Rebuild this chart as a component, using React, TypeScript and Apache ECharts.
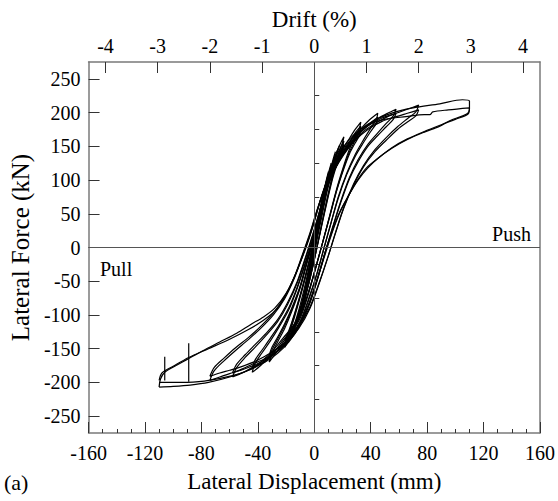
import React, { useEffect, useRef } from "react";
import * as echarts from "echarts";

// ---- axis ticks / labels ----
const dispTicksInterval = 40;
const driftTicks = [-4, -3, -2, -1, 0, 1, 2, 3, 4];
const forceMajor = [-250, -200, -150, -100, -50, 0, 50, 100, 150, 200, 250];
const forceMinor = [-225, -175, -125, -75, -25, 25, 75, 125, 175, 225];
const mmPerDrift = 37; // 1 % drift in mm

// ---- hysteresis cycles [displacement mm, force kN] ----
const cycle03 = [
  [-3, -35], [-1, -12], [1, 12], [3, 38], [1, 15], [-1, -10], [-3, -35],
];
const cycle05 = [
  [-5, -58], [-3, -36], [-1, -10], [1, 15], [3, 40], [5, 60],
  [4, 48], [2, 22], [0, -5], [-2, -28], [-5, -58],
];
const cycle07 = [
  [-7, -80], [-5, -60], [-2, -25], [1, 10], [4, 48], [7, 85],
  [5, 65], [2, 28], [-1, -8], [-4, -45], [-7, -80],
];
const cycle10 = [
  [-10, -100], [-8, -85], [-5, -55], [-2, -20], [1, 15], [4, 50], [7, 82], [10, 112],
  [8, 95], [5, 62], [2, 25], [-1, -10], [-4, -45], [-7, -75], [-10, -100],
];
const cycle12a = [
  [-12, -110], [-9, -88], [-6, -60], [-3, -28], [0, 8], [3, 42], [6, 75], [9, 102], [12, 125],
  [10, 108], [7, 78], [4, 42], [1, 5], [-2, -30], [-5, -60], [-8, -88], [-12, -110],
];
const cycle12b = [
  [-12, -106], [-9, -84], [-6, -57], [-3, -25], [0, 10], [3, 44], [6, 76], [9, 101], [12, 122],
  [10, 104], [7, 74], [4, 39], [1, 3], [-2, -31], [-5, -60], [-8, -85], [-12, -106],
];
const cycle15a = [
  [-15, -126], [-12, -108], [-8, -78], [-4, -40], [0, 0], [4, 45], [8, 85], [12, 120], [15, 142],
  [13, 128], [10, 100], [6, 60], [2, 18], [-2, -25], [-6, -62], [-10, -95], [-13, -115], [-15, -126],
];
const cycle15b = [
  [-15, -122], [-12, -104], [-8, -75], [-4, -37], [0, 3], [4, 46], [8, 84], [12, 117], [15, 137],
  [13, 123], [10, 96], [6, 57], [2, 16], [-2, -26], [-6, -61], [-10, -92], [-13, -111], [-15, -122],
];
const cycle18 = [
  [-18, -138], [-15, -120], [-11, -93], [-7, -60], [-3, -22], [1, 18], [5, 58], [9, 95], [13, 123], [16, 142], [18, 152],
  [16, 138], [13, 115], [9, 82], [5, 42], [1, 3], [-3, -38], [-7, -72], [-11, -100], [-15, -124], [-18, -138],
];
const cycle21a = [
  [-21, -148], [-18, -130], [-14, -103], [-9, -66], [-4, -25], [0, 12], [4, 52], [8, 92], [12, 120], [16, 142], [19, 156], [21, 164],
  [20, 155], [17, 138], [13, 108], [8, 62], [4, 22], [0, -18], [-4, -55], [-9, -92], [-14, -120], [-18, -138], [-21, -148],
];
const cycle21b = [
  [-21, -142], [-18, -126], [-14, -100], [-9, -64], [-4, -24], [0, 12], [4, 50], [8, 89], [12, 116], [16, 137], [19, 150], [21, 158],
  [20, 149], [17, 133], [13, 105], [8, 60], [4, 21], [0, -18], [-4, -54], [-9, -90], [-14, -116], [-18, -133], [-21, -142],
];
const cycle21c = [
  [-21, -138], [-18, -123], [-14, -98], [-9, -63], [-4, -23], [0, 13], [4, 49], [8, 87], [12, 113], [16, 133], [19, 146], [21, 153],
  [20, 145], [17, 129], [13, 102], [8, 58], [4, 20], [0, -18], [-4, -53], [-9, -88], [-14, -113], [-18, -129], [-21, -138],
];
const cycle33a = [
  [-32, -170], [-30, -157], [-26, -140], [-21, -120], [-16, -95], [-10, -60], [-5, -22], [0, 15], [5, 60], [10, 98], [15, 125], [20, 145], [25, 162], [29, 175], [33, 186],
  [32, 177], [29, 164], [25, 146], [21, 122], [16, 88], [11, 48], [6, 8], [1, -30], [-4, -68], [-10, -105], [-16, -125], [-22, -140], [-27, -156], [-32, -170],
];
const cycle33b = [
  [-32, -164], [-30, -152], [-26, -136], [-21, -116], [-16, -92], [-10, -58], [-5, -20], [0, 16], [5, 58], [10, 95], [15, 121], [20, 140], [25, 156], [29, 170], [33, 180],
  [32, 171], [29, 159], [25, 142], [21, 119], [16, 86], [11, 47], [6, 8], [1, -30], [-4, -66], [-10, -102], [-16, -122], [-22, -137], [-27, -151], [-32, -164],
];
const cycle33c = [
  [-32, -160], [-30, -148], [-26, -133], [-21, -113], [-16, -90], [-10, -57], [-5, -19], [0, 17], [5, 57], [10, 93], [15, 118], [20, 136], [25, 151], [29, 164], [33, 174],
  [32, 166], [29, 155], [25, 139], [21, 117], [16, 85], [11, 46], [6, 8], [1, -30], [-4, -65], [-10, -100], [-16, -119], [-22, -134], [-27, -147], [-32, -160],
];
const cycle45a = [
  [-44, -185], [-42, -172], [-37, -156], [-31, -138], [-25, -118], [-18, -92], [-12, -60], [-6, -22], [-1, 12], [4, 52], [9, 90], [14, 118], [20, 140], [26, 158], [33, 176], [39, 189], [45, 199],
  [44, 190], [40, 177], [35, 160], [29, 138], [23, 110], [17, 75], [12, 38], [7, 0], [2, -38], [-4, -78], [-10, -112], [-17, -135], [-24, -150], [-31, -160], [-38, -175], [-44, -185],
];
const cycle45b = [
  [-44, -179], [-42, -167], [-37, -152], [-31, -134], [-25, -115], [-18, -89], [-12, -58], [-6, -20], [-1, 14], [4, 53], [9, 89], [14, 116], [20, 137], [26, 154], [33, 171], [39, 183], [45, 193],
  [44, 184], [40, 172], [35, 156], [29, 135], [23, 108], [17, 73], [12, 37], [7, 0], [2, -38], [-4, -76], [-10, -109], [-17, -131], [-24, -147], [-31, -157], [-38, -170], [-44, -179],
];
const cycle58a = [
  [-58, -192], [-55, -178], [-49, -163], [-42, -148], [-34, -130], [-26, -110], [-19, -85], [-12, -52], [-6, -15], [-1, 18], [4, 55], [9, 90], [15, 118], [21, 140], [28, 160], [36, 178], [45, 191], [52, 199], [58, 205],
  [56, 195], [51, 184], [45, 170], [38, 153], [31, 130], [25, 104], [19, 70], [13, 30], [8, -5], [3, -42], [-3, -82], [-10, -115], [-18, -140], [-26, -157], [-35, -170], [-44, -178], [-51, -186], [-58, -192],
];
const cycle58b = [
  [-58, -186], [-55, -173], [-49, -159], [-42, -144], [-34, -127], [-26, -107], [-19, -82], [-12, -50], [-6, -13], [-1, 20], [4, 56], [9, 90], [15, 117], [21, 138], [28, 157], [36, 174], [45, 186], [52, 194], [58, 199],
  [56, 190], [51, 179], [45, 166], [38, 150], [31, 127], [25, 102], [19, 68], [13, 29], [8, -5], [3, -42], [-3, -80], [-10, -112], [-18, -136], [-26, -153], [-35, -165], [-44, -173], [-51, -180], [-58, -186],
];
const cycle74a = [
  [-74, -197], [-71, -183], [-64, -168], [-56, -153], [-47, -137], [-38, -120], [-29, -100], [-21, -76], [-14, -45], [-8, -10], [-3, 20], [2, 55], [8, 92], [14, 120], [21, 143], [29, 163], [38, 180], [48, 192], [58, 199], [66, 205], [74, 211],
  [72, 201], [66, 191], [59, 179], [51, 163], [43, 145], [35, 122], [28, 95], [21, 60], [15, 22], [10, -12], [4, -50], [-3, -90], [-11, -120], [-20, -143], [-30, -160], [-41, -173], [-52, -182], [-60, -187], [-67, -192], [-74, -197],
];
const cycle74b = [
  [-74, -191], [-71, -178], [-64, -164], [-56, -149], [-47, -134], [-38, -117], [-29, -97], [-21, -73], [-14, -43], [-8, -8], [-3, 22], [2, 56], [8, 92], [14, 118], [21, 140], [29, 159], [38, 175], [48, 187], [58, 194], [66, 199], [74, 204],
  [72, 195], [66, 186], [59, 175], [51, 159], [43, 142], [35, 120], [28, 93], [21, 59], [15, 21], [10, -12], [4, -49], [-3, -88], [-11, -117], [-20, -139], [-30, -155], [-41, -168], [-52, -177], [-60, -182], [-67, -186], [-74, -191],
];
const cycle110a = [
  [-110, -207], [-109, -195], [-106, -185], [-98, -175], [-91, -167], [-79, -153], [-67, -140], [-55, -127], [-45, -114], [-36, -103], [-28, -90], [-20, -68], [-13, -38], [-7, -5], [-2, 25], [3, 60], [9, 97], [16, 128], [24, 155], [33, 175], [44, 190], [56, 200], [70, 207], [89, 213], [105, 219], [110, 217],
  [110, 205], [108, 198], [96, 188], [89, 180], [78, 171], [66, 160], [55, 147], [45, 132], [38, 118], [31, 100], [24, 76], [19, 56], [14, 30], [10, 5], [5, -28], [0, -60], [-6, -95], [-13, -122], [-22, -145], [-33, -165], [-45, -180], [-60, -192], [-75, -200], [-88, -204], [-100, -206], [-110, -207],
];
const cycle110b = [
  [-110, -197], [-108, -186], [-100, -176], [-89, -163], [-75, -150], [-60, -136], [-47, -122], [-36, -108], [-26, -90], [-18, -62], [-11, -28], [-5, 5], [0, 38], [5, 75], [11, 110], [18, 140], [27, 165], [38, 182], [50, 190], [65, 194], [78, 197], [82, 197], [84, 201], [95, 204], [110, 207],
  [109, 198], [100, 190], [90, 182], [78, 172], [66, 161], [55, 148], [45, 132], [37, 118], [30, 98], [23, 72], [17, 48], [12, 20], [8, -5], [3, -40], [-3, -80], [-10, -112], [-18, -135], [-28, -158], [-42, -178], [-58, -190], [-78, -198], [-95, -200], [-110, -200],
];
const spikeA = [[-106, -162], [-106, -197]];
const spikeB = [[-89, -142], [-89, -199]];

const cycles = [
  cycle03, cycle05, cycle07, cycle10, cycle12a, cycle12b, cycle15a, cycle15b, cycle18,
  cycle21a, cycle21b, cycle21c, cycle33a, cycle33b, cycle33c,
  cycle45a, cycle45b, cycle58a, cycle58b, cycle74a, cycle74b, cycle110a, cycle110b,
];

const FONT = "'Liberation Serif', 'Times New Roman', serif";
const FRAME = "#7a7a7a";
const TICK = "#333333";

export default function App() {
  const ref = useRef<HTMLDivElement>(null);
  useEffect(() => {
    if (!ref.current) return;
    const chart = echarts.init(ref.current, undefined, { renderer: "svg" });
    const lineSeries: any[] = cycles.map((c) => ({
      type: "line",
      data: c,
      showSymbol: false,
      symbol: "none",
      smooth: 0.3,
      lineStyle: { color: "#000", width: 1.2 },
      xAxisIndex: 0,
      yAxisIndex: 0,
      silent: true,
      z: 3,
    }));
    [spikeA, spikeB].forEach((s) =>
      lineSeries.push({
        type: "line",
        data: s,
        symbol: "none",
        lineStyle: { color: "#000", width: 1.2 },
        xAxisIndex: 0,
        yAxisIndex: 0,
        silent: true,
        z: 3,
      })
    );
    lineSeries.push({
      type: "line",
      data: [],
      xAxisIndex: 0,
      yAxisIndex: 0,
      markLine: {
        symbol: "none",
        silent: true,
        label: { show: false },
        lineStyle: { color: "#555", type: "solid", width: 1 },
        data: [{ xAxis: 0 }, { yAxis: 0 }],
      },
      z: 2,
    });

    chart.setOption({
      animation: false,
      grid: { left: 85, right: 17, top: 62, bottom: 68, containLabel: false },
      xAxis: [
        {
          type: "value",
          position: "bottom",
          min: -160,
          max: 160,
          interval: dispTicksInterval,
          name: "Lateral Displacement (mm)",
          nameLocation: "middle",
          nameGap: 37,
          nameTextStyle: { fontFamily: FONT, fontSize: 23, color: "#000" },
          axisLine: { show: true, onZero: false, lineStyle: { color: FRAME, width: 1.5 } },
          axisTick: { show: true, inside: true, length: 11, lineStyle: { color: TICK } },
          minorTick: { show: true, splitNumber: 4, length: 4, lineStyle: { color: TICK } },
          axisLabel: { fontFamily: FONT, fontSize: 20, color: "#000", margin: 10 },
          splitLine: { show: false },
        },
        {
          type: "value",
          position: "top",
          min: -160 / mmPerDrift,
          max: 160 / mmPerDrift,
          name: "Drift (%)",
          nameLocation: "middle",
          nameGap: 28,
          nameTextStyle: { fontFamily: FONT, fontSize: 23, color: "#000" },
          axisLine: { show: true, onZero: false, lineStyle: { color: FRAME, width: 1.5 } },
          axisTick: { show: true, inside: true, length: 11, customValues: driftTicks, lineStyle: { color: TICK } },
          axisLabel: { fontFamily: FONT, fontSize: 20, color: "#000", margin: 6, customValues: driftTicks },
          splitLine: { show: false },
        },
      ],
      yAxis: [
        {
          type: "value",
          position: "left",
          min: -275,
          max: 275,
          name: "Lateral Force (kN)",
          nameLocation: "middle",
          nameGap: 53,
          nameTextStyle: { fontFamily: FONT, fontSize: 25, color: "#000" },
          axisLine: { show: true, onZero: false, lineStyle: { color: FRAME, width: 1.5 } },
          axisTick: { show: true, inside: true, length: 11, customValues: forceMajor, lineStyle: { color: TICK } },
          axisLabel: { fontFamily: FONT, fontSize: 20, color: "#000", margin: 8, customValues: forceMajor },
          splitLine: { show: false },
        },
        {
          type: "value",
          position: "left",
          min: -275,
          max: 275,
          axisLine: { show: false },
          axisTick: { show: true, inside: true, length: 5, customValues: forceMinor, lineStyle: { color: TICK } },
          axisLabel: { show: false },
          splitLine: { show: false },
        },
        {
          type: "value",
          position: "right",
          min: -275,
          max: 275,
          axisLine: { show: true, onZero: false, lineStyle: { color: FRAME, width: 1.5 } },
          axisTick: { show: false },
          axisLabel: { show: false },
          splitLine: { show: false },
        },
      ],
      graphic: [
        {
          type: "text",
          right: 27,
          top: 224,
          style: { text: "Push", font: `20px ${FONT}`, fill: "#000" },
        },
        {
          type: "text",
          left: 100,
          top: 259,
          style: { text: "Pull", font: `20px ${FONT}`, fill: "#000" },
        },
        {
          type: "text",
          left: 4,
          top: 471,
          style: { text: "(a)", font: `22px ${FONT}`, fill: "#000" },
        },
      ],
      series: lineSeries,
    });
    return () => chart.dispose();
  }, []);
  return (
    <div
      ref={ref}
      style={{ position: "absolute", left: 0, top: 0, width: 558, height: 501 }}
    />
  );
}
